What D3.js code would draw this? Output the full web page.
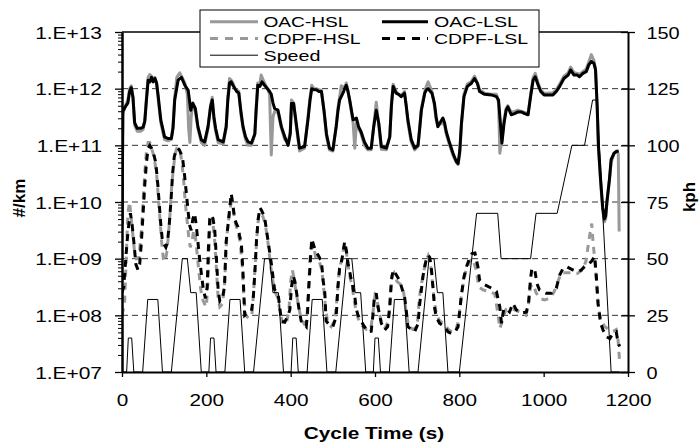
<!DOCTYPE html>
<html><head><meta charset="utf-8">
<script src="https://cdn.jsdelivr.net/npm/d3@7"></script>
<style>
body{margin:0;background:#fff}
svg{display:block}
text{font-family:"Liberation Sans",Arial,sans-serif;fill:#000}
</style>
</head><body>
<svg id="chart" width="699" height="443"></svg>
<script>
// ---------- DATA ----------
const xTicks = [0, 200, 400, 600, 800, 1000, 1200];
const yLeftTicks = [1e7, 1e8, 1e9, 1e10, 1e11, 1e12, 1e13];
const yLeftLabels = ["1.E+07", "1.E+08", "1.E+09", "1.E+10", "1.E+11", "1.E+12", "1.E+13"];
const yRightTicks = [0, 25, 50, 75, 100, 125, 150];
const gridValues = [1e8, 1e9, 1e10, 1e11, 1e12];
const seriesNames = ["OAC-HSL", "OAC-LSL", "CDPF-HSL", "CDPF-LSL", "Speed"];

// Speed (kph) vs cycle time (s) - NEDC profile
const speedTime = [0,11,15,23,28,49,61,85,96,117,143,155,163,176,188,
  206,210,218,223,244,256,280,291,312,338,350,358,371,383,
  401,405,413,418,439,451,475,486,507,533,545,553,566,578,
  596,600,608,613,634,646,670,681,702,728,740,748,761,773,
  800,841,891,899,969,982,1032,1067,1097,1116,1126,1160,1180];
const speedKph = [0,0,15,15,0,0,32,32,0,0,50,50,35,35,0,
  0,15,15,0,0,32,32,0,0,50,50,35,35,0,
  0,15,15,0,0,32,32,0,0,50,50,35,35,0,
  0,15,15,0,0,32,32,0,0,50,50,35,35,0,
  0,70,70,50,50,70,70,100,100,120,120,0,0];

// Particle number, log10(#/km), [time s, log10 value]
const oacLsl = [[0,9.6],[2,11.6],[8,11.68],[14,11.75],[18,11.95],[22,12.02],[26,11.85],[30,11.4],[36,11.3],[44,11.3],[50,11.32],[54,11.42],[58,11.8],[62,12.15],[66,12.12],[70,12.2],[74,12.12],[78,12.18],[82,12.1],[86,11.86],[92,11.45],[101,11.15],[109,11.12],[117,11.12],[121,11.3],[125,11.8],[133,12.15],[141,12.2],[149,12.06],[157,11.97],[163,11.62],[168,11.74],[174,11.65],[180,11.33],[188,11.1],[196,11.06],[204,11.33],[210,11.68],[214,11.8],[218,11.5],[222,11.3],[228,11.1],[240,11.06],[247,11.33],[251,11.8],[255,12.1],[259,12.12],[263,12.06],[268,12.0],[272,11.95],[277,11.92],[282,11.6],[287,11.33],[293,11.15],[299,11.06],[307,11.04],[315,11.2],[318,11.6],[322,12.06],[327,12.04],[332,12.12],[338,12.06],[345,12.0],[350,11.95],[354,11.9],[358,11.75],[362,11.65],[370,11.62],[378,11.33],[386,11.15],[394,11.0],[399,11.2],[402,11.74],[407,11.74],[413,11.4],[421,10.95],[433,10.98],[441,11.45],[446,11.8],[450,12.0],[455,11.98],[461,11.98],[467,11.95],[473,11.95],[479,11.62],[485,11.2],[492,10.95],[500,10.92],[508,11.33],[512,11.6],[516,11.8],[524,11.92],[528,12.0],[532,12.06],[536,11.95],[540,11.8],[548,11.45],[556,11.48],[561,11.33],[567,11.24],[575,11.06],[583,10.95],[591,10.95],[597,11.33],[603,11.62],[609,11.39],[615,10.98],[627,10.95],[635,11.15],[639,11.7],[643,12.04],[650,11.92],[656,11.9],[662,11.86],[670,11.92],[674,11.7],[678,11.45],[686,11.1],[694,10.95],[702,11.0],[706,11.3],[710,11.62],[718,11.92],[722,11.98],[726,12.0],[735,11.92],[741,11.74],[745,11.5],[749,11.33],[756,11.42],[761,11.48],[765,11.4],[769,11.24],[777,11.04],[785,10.86],[793,10.71],[797,10.68],[801,10.9],[805,11.39],[811,11.86],[819,12.04],[828,12.09],[836,12.18],[843,12.09],[848,11.95],[860,11.9],[876,11.89],[888,11.86],[893,11.8],[898,11.33],[901,11.04],[906,11.39],[911,11.62],[915,11.68],[923,11.54],[931,11.56],[939,11.59],[947,11.59],[955,11.56],[963,11.54],[969,11.86],[975,12.15],[980,12.21],[987,12.06],[993,11.95],[1001,11.89],[1010,11.89],[1022,11.89],[1030,11.95],[1038,12.04],[1048,12.18],[1058,12.24],[1064,12.33],[1072,12.24],[1080,12.24],[1085,12.21],[1093,12.27],[1101,12.3],[1107,12.42],[1113,12.48],[1119,12.45],[1123,12.33],[1127,11.68],[1130,10.98],[1135,10.4],[1140,9.9],[1144,9.7],[1147,9.75],[1150,10.0],[1156,10.4],[1160,10.75],[1167,10.86],[1172,10.89],[1178,10.9]];

const oacHsl = [[0,9.5],[2,11.55],[8,11.7],[14,11.8],[18,12.0],[22,12.05],[26,11.85],[30,11.35],[36,11.25],[44,11.25],[50,11.28],[54,11.45],[58,11.85],[62,12.2],[66,12.25],[70,12.22],[74,12.15],[78,12.2],[82,12.1],[86,11.8],[92,11.4],[101,11.1],[109,11.08],[117,11.1],[121,11.35],[125,11.85],[130,12.2],[137,12.28],[141,12.22],[149,12.1],[155,11.9],[158,11.3],[161,11.05],[164,11.5],[168,11.75],[174,11.6],[180,11.3],[188,11.05],[196,11.0],[204,11.3],[210,11.7],[214,11.85],[218,11.45],[222,11.25],[228,11.05],[240,11.02],[247,11.3],[251,11.85],[255,12.18],[259,12.15],[263,12.1],[268,12.0],[272,11.98],[277,11.95],[282,11.55],[287,11.3],[293,11.1],[299,11.0],[307,11.0],[315,11.2],[318,11.65],[322,12.1],[327,12.08],[330,12.24],[338,12.1],[345,12.0],[350,11.9],[354,10.83],[358,11.5],[362,11.6],[370,11.58],[378,11.3],[386,11.1],[394,11.05],[399,11.25],[402,11.8],[407,11.75],[413,11.35],[421,10.9],[433,10.95],[441,11.5],[446,11.85],[450,12.06],[455,12.0],[461,12.0],[467,11.98],[473,11.97],[479,11.6],[485,11.15],[492,10.92],[500,10.9],[508,11.35],[512,11.65],[516,11.85],[520,12.05],[528,12.02],[532,12.1],[536,11.95],[540,11.78],[548,11.4],[552,10.95],[556,11.4],[561,11.3],[567,11.2],[575,11.0],[583,10.92],[591,10.92],[597,11.35],[603,11.76],[609,11.35],[615,10.93],[627,10.92],[635,11.15],[639,11.75],[643,12.08],[650,11.95],[656,11.9],[662,11.88],[670,11.95],[674,11.7],[678,11.4],[686,11.05],[694,10.92],[702,10.98],[706,11.3],[710,11.65],[718,11.95],[722,12.05],[726,12.12],[735,11.95],[741,11.7],[745,11.45],[749,11.35],[756,11.38],[761,11.4],[765,11.35],[769,11.2],[777,11.0],[785,10.82],[793,10.7],[797,10.66],[801,10.85],[805,11.35],[811,11.9],[819,12.08],[828,12.12],[836,12.22],[843,12.1],[848,11.98],[860,11.92],[876,11.9],[888,11.9],[893,11.75],[896,10.86],[901,11.1],[906,11.45],[911,11.65],[915,11.7],[923,11.58],[931,11.6],[939,11.62],[947,11.6],[955,11.58],[963,11.56],[969,11.9],[975,12.2],[980,12.27],[987,12.1],[993,11.98],[1001,11.92],[1010,11.92],[1022,11.93],[1030,11.98],[1038,12.08],[1048,12.22],[1058,12.28],[1064,12.38],[1072,12.28],[1080,12.27],[1085,12.25],[1093,12.3],[1101,12.35],[1107,12.47],[1113,12.6],[1119,12.5],[1123,12.35],[1127,11.6],[1130,10.95],[1135,10.35],[1140,9.85],[1144,9.65],[1147,9.7],[1150,10.0],[1156,10.4],[1160,10.7],[1167,10.86],[1172,10.9],[1177,10.85],[1179,9.48]];

const cdpfLsl = [[0,8.4],[4,8.5],[8,8.9],[12,9.3],[16,9.6],[20,9.8],[24,9.6],[28,9.3],[33,8.9],[38,8.8],[42,8.9],[46,9.3],[50,9.8],[54,10.3],[58,10.7],[62,10.95],[66,11.0],[70,10.95],[75,10.85],[80,10.7],[85,10.3],[88,10.0],[92,9.6],[96,9.3],[100,9.25],[104,9.2],[108,9.3],[112,9.6],[116,10.0],[120,10.5],[124,10.8],[128,10.9],[132,10.95],[136,10.92],[140,10.85],[144,10.75],[148,10.5],[152,10.2],[156,9.9],[160,9.6],[164,9.5],[168,9.7],[172,9.8],[176,9.6],[180,9.3],[184,9.0],[188,8.75],[193,8.45],[198,8.3],[202,8.5],[205,9.2],[208,9.7],[212,9.77],[216,9.7],[220,9.5],[224,9.0],[228,8.45],[232,8.25],[238,8.3],[243,8.5],[247,9.3],[251,9.56],[255,9.86],[259,10.15],[263,9.95],[267,9.71],[271,9.62],[275,9.56],[279,9.4],[283,9.27],[287,8.74],[291,8.0],[299,8.05],[307,8.08],[311,8.27],[315,8.74],[319,9.33],[323,9.7],[327,9.9],[331,9.85],[338,9.74],[346,9.33],[354,8.92],[362,8.45],[370,8.39],[378,7.9],[386,7.88],[394,8.0],[398,8.1],[402,8.5],[406,8.7],[410,8.6],[415,8.35],[420,8.1],[425,7.9],[431,7.85],[437,7.8],[440,8.05],[443,8.5],[447,9.0],[450,9.35],[454,9.25],[458,9.15],[466,9.05],[473,8.95],[477,8.62],[481,8.39],[484,7.9],[492,7.83],[500,7.8],[508,7.98],[512,8.5],[516,8.83],[520,8.92],[524,9.1],[528,9.3],[532,9.15],[536,8.92],[544,8.62],[552,8.33],[556,8.1],[560,8.0],[567,7.9],[575,7.8],[583,7.71],[591,7.72],[595,8.0],[598,8.27],[603,8.39],[607,8.15],[615,7.86],[623,7.74],[630,7.8],[635,8.15],[639,8.62],[643,8.8],[650,8.72],[658,8.62],[665,8.45],[670,8.33],[674,8.1],[678,7.8],[686,7.75],[694,7.71],[702,7.85],[706,8.2],[710,8.45],[714,8.7],[718,8.86],[722,9.0],[726,9.06],[730,9.02],[734,8.8],[738,8.45],[741,8.15],[745,7.98],[753,7.86],[765,7.8],[773,7.71],[781,7.68],[789,7.7],[797,7.8],[805,8.36],[811,8.68],[817,8.86],[824,9.0],[830,9.09],[837,9.1],[844,8.86],[848,8.62],[860,8.54],[876,8.48],[888,8.42],[896,8.15],[900,7.86],[905,8.1],[911,8.12],[919,8.06],[927,8.21],[935,8.1],[947,8.04],[959,8.06],[964,8.21],[969,8.65],[972,8.83],[979,8.8],[984,8.56],[990,8.45],[998,8.42],[1006,8.39],[1018,8.39],[1030,8.48],[1038,8.71],[1046,8.83],[1054,8.86],[1062,8.83],[1070,8.8],[1081,8.77],[1089,8.8],[1097,8.86],[1105,8.89],[1113,8.95],[1121,9.04],[1125,8.68],[1129,8.21],[1135,7.86],[1141,7.74],[1149,7.62],[1157,7.59],[1164,7.68],[1172,7.71],[1176,7.54],[1180,7.45]];

const cdpfHsl = [[0,8.0],[6,8.2],[10,9.0],[14,9.8],[18,10.0],[22,9.7],[26,9.4],[30,9.1],[34,9.0],[40,9.0],[46,9.5],[50,10.0],[54,10.5],[58,10.9],[62,11.05],[66,11.05],[70,10.95],[76,10.8],[82,10.5],[86,10.1],[90,9.7],[94,9.3],[98,9.0],[102,8.95],[106,9.1],[110,9.4],[114,9.8],[118,10.3],[122,10.6],[126,10.85],[130,10.95],[134,10.95],[138,10.9],[142,10.7],[146,10.4],[150,10.0],[154,9.7],[158,9.4],[162,9.2],[166,9.3],[170,9.5],[174,9.4],[178,9.1],[182,8.8],[186,8.5],[190,8.3],[196,8.2],[200,8.15],[204,8.6],[208,9.5],[212,9.7],[216,9.6],[220,9.3],[224,8.8],[228,8.3],[232,8.15],[238,8.2],[243,8.5],[247,9.2],[251,9.6],[255,9.8],[259,10.0],[263,9.9],[268,9.65],[274,9.5],[280,9.3],[285,8.9],[289,8.3],[293,8.0],[300,7.95],[308,8.0],[312,8.4],[316,8.9],[320,9.4],[324,9.75],[328,9.8],[334,9.75],[340,9.6],[346,9.3],[352,8.9],[358,8.6],[364,8.4],[370,8.3],[376,8.0],[382,7.85],[390,7.85],[396,8.1],[400,8.6],[404,8.8],[408,8.65],[413,8.4],[418,8.2],[424,7.95],[432,7.85],[438,7.9],[442,8.4],[446,9.0],[450,9.25],[455,9.2],[460,9.0],[468,8.95],[474,8.8],[478,8.5],[482,8.2],[488,7.85],[496,7.8],[504,7.9],[510,8.3],[514,8.7],[518,8.9],[522,9.0],[526,9.2],[530,9.25],[534,9.0],[540,8.7],[546,8.5],[552,8.2],[558,8.0],[564,7.85],[572,7.8],[580,7.75],[590,7.75],[596,8.1],[600,8.35],[604,8.3],[610,8.05],[616,7.85],[624,7.78],[632,7.9],[636,8.3],[640,8.7],[645,8.75],[652,8.6],[660,8.55],[668,8.4],[674,8.05],[680,7.8],[690,7.75],[700,7.8],[705,8.3],[710,8.55],[715,8.75],[720,8.95],[726,9.05],[732,8.9],[736,8.6],[740,8.3],[746,8.0],[754,7.9],[764,7.85],[774,7.75],[784,7.7],[792,7.75],[798,7.9],[804,8.3],[810,8.6],[816,8.8],[824,8.95],[832,9.0],[840,8.8],[846,8.5],[856,8.45],[870,8.42],[884,8.38],[892,8.0],[896,7.77],[902,7.9],[910,8.1],[920,8.12],[930,8.1],[945,8.05],[958,8.0],[964,8.2],[968,8.5],[975,8.55],[982,8.4],[990,8.3],[1002,8.27],[1015,8.3],[1025,8.42],[1034,8.6],[1042,8.75],[1055,8.75],[1068,8.75],[1080,8.74],[1092,8.8],[1100,8.95],[1105,9.2],[1110,9.45],[1114,9.62],[1117,9.3],[1121,9.0],[1125,8.6],[1130,8.1],[1137,7.9],[1145,7.8],[1155,7.75],[1165,7.72],[1172,7.75],[1176,7.6],[1180,7.2]];

// ---------- CHART ----------
const svg = d3.select("#chart");
const x = d3.scaleLinear().domain([0, 1200]).range([122, 628]);
const yL = d3.scaleLog().domain([1e7, 1e13]).range([372, 32]);
const yR = d3.scaleLinear().domain([0, 150]).range([372, 32]);

function stretch(sel, sx) {
  sel.each(function () {
    const w = this.getComputedTextLength();
    d3.select(this).attr("textLength", w * sx).attr("lengthAdjust", "spacingAndGlyphs");
  });
}

svg.append("defs").append("clipPath").attr("id", "plot")
  .append("rect").attr("x", x(0)).attr("y", yL(1e13) - 2).attr("width", x(1200) - x(0)).attr("height", yL(1e7) - yL(1e13) + 2);

// gridlines
svg.append("g").selectAll("line").data(gridValues).join("line")
  .attr("x1", x(0)).attr("x2", x(1200))
  .attr("y1", d => yL(d)).attr("y2", d => yL(d))
  .attr("stroke", "#333").attr("stroke-width", 1).attr("stroke-dasharray", "6,4");

// top border
svg.append("line").attr("x1", x(0)).attr("x2", x(1200))
  .attr("y1", yL(1e13)).attr("y2", yL(1e13)).attr("stroke", "#000").attr("stroke-width", 1.3);

const lineL = d3.line().x(d => x(d[0])).y(d => yL(Math.pow(10, d[1])));
const lineS = d3.line().x((d, i) => x(speedTime[i])).y(d => yR(d));

const plot = svg.append("g").attr("clip-path", "url(#plot)");
plot.append("path").datum(oacHsl).attr("d", lineL).attr("fill", "none")
  .attr("stroke", "#999").attr("stroke-width", 3).attr("stroke-linejoin", "round");
plot.append("path").datum(oacLsl).attr("d", lineL).attr("fill", "none")
  .attr("stroke", "#000").attr("stroke-width", 3).attr("stroke-linejoin", "round");
plot.append("path").datum(cdpfHsl).attr("d", lineL).attr("fill", "none")
  .attr("stroke", "#999").attr("stroke-width", 3).attr("stroke-dasharray", "7,6");
plot.append("path").datum(cdpfLsl).attr("d", lineL).attr("fill", "none")
  .attr("stroke", "#000").attr("stroke-width", 3).attr("stroke-dasharray", "7,6");
plot.append("path").datum(speedKph).attr("d", lineS).attr("fill", "none")
  .attr("stroke", "#000").attr("stroke-width", 1);

// left axis (major + minor ticks)
const minorVals = [];
for (let e = 7; e < 13; e++) for (let m = 2; m <= 9; m++) minorVals.push(m * Math.pow(10, e));
const gMinor = svg.append("g").attr("transform", `translate(${x(0)},0)`)
  .call(d3.axisLeft(yL).tickValues(minorVals).tickSize(4).tickSizeOuter(0).tickFormat(""));
gMinor.select(".domain").remove();
gMinor.selectAll("line").attr("stroke", "#000");

const gL = svg.append("g").attr("transform", `translate(${x(0)},0)`)
  .call(d3.axisLeft(yL).tickValues(yLeftTicks).tickSize(7).tickSizeOuter(0)
    .tickFormat((d, i) => yLeftLabels[i]));
gL.select(".domain").attr("stroke", "#000").attr("stroke-width", 2.5);
gL.selectAll(".tick line").attr("stroke", "#000").attr("stroke-width", 1.3);
gL.selectAll(".tick text").attr("x", -20).attr("dy", "0.36em")
  .style("font-size", "17px").style("font-family", '"Liberation Sans",Arial,sans-serif').attr("fill", "#000");
stretch(gL.selectAll(".tick text"), 1.23);

// bottom axis
const gB = svg.append("g").attr("transform", `translate(0,${yL(1e7)})`)
  .call(d3.axisBottom(x).tickValues(xTicks).tickSize(5).tickSizeOuter(0).tickFormat(d3.format("d")));
gB.select(".domain").attr("stroke", "#000").attr("stroke-width", 2);
gB.selectAll(".tick line").attr("stroke", "#000").attr("stroke-width", 1.3);
gB.selectAll(".tick text").attr("y", 34).attr("dy", 0)
  .style("font-size", "17px").style("font-family", '"Liberation Sans",Arial,sans-serif').attr("fill", "#000");
stretch(gB.selectAll(".tick text"), 1.22);

// right axis
const gR = svg.append("g").attr("transform", `translate(${x(1200)},0)`)
  .call(d3.axisRight(yR).tickValues(yRightTicks).tickSize(7).tickSizeOuter(0));
gR.select(".domain").attr("stroke", "#000").attr("stroke-width", 2);
gR.selectAll(".tick line").attr("x1", -7).attr("x2", 7).attr("stroke", "#000").attr("stroke-width", 1.3);
gR.selectAll(".tick text").attr("x", 18.5).attr("dy", "0.36em")
  .style("font-size", "17px").style("font-family", '"Liberation Sans",Arial,sans-serif').attr("fill", "#000");
stretch(gR.selectAll(".tick text"), 1.17);

// axis titles
const tx = svg.append("text").attr("x", 374).attr("y", 439).attr("text-anchor", "middle")
  .style("font-size", "17px").style("font-weight", "bold").text("Cycle Time (s)");
stretch(tx, 1.22);
svg.append("text").attr("transform", "translate(25,198) rotate(-90)").attr("text-anchor", "middle")
  .style("font-size", "17px").style("font-weight", "bold").text("#/km");
svg.append("text").attr("transform", "translate(695,197) rotate(-90)").attr("text-anchor", "middle")
  .style("font-size", "17px").style("font-weight", "bold").text("kph");

// legend
const lg = svg.append("g");
lg.append("rect").attr("x", 200).attr("y", 10).attr("width", 339).attr("height", 57)
  .attr("fill", "#fff").attr("stroke", "#000").attr("stroke-width", 1);
const legendItems = [
  { name: seriesNames[0], col: 0, row: 0, color: "#999", w: 3, dash: null, tw: 85 },
  { name: seriesNames[1], col: 1, row: 0, color: "#000", w: 3, dash: null, tw: 84 },
  { name: seriesNames[2], col: 0, row: 1, color: "#999", w: 3, dash: "8,7", tw: 97 },
  { name: seriesNames[3], col: 1, row: 1, color: "#000", w: 3, dash: "8,7", tw: 94 },
  { name: seriesNames[4], col: 0, row: 2, color: "#000", w: 1, dash: null, tw: 57 }
];
const colX = [[210, 258, 263.5], [382, 428, 434]];
const rowY = [21.7, 38.5, 55.2];
legendItems.forEach(it => {
  const c = colX[it.col], yy = rowY[it.row];
  const ln = lg.append("line").attr("x1", c[0]).attr("x2", c[1]).attr("y1", yy).attr("y2", yy)
    .attr("stroke", it.color).attr("stroke-width", it.w);
  if (it.dash) ln.attr("stroke-dasharray", it.dash);
  lg.append("text").attr("x", c[2]).attr("y", yy + 5.6)
    .style("font-size", "14.5px").attr("textLength", it.tw).attr("lengthAdjust", "spacingAndGlyphs").text(it.name);
});
</script>
</body></html>
